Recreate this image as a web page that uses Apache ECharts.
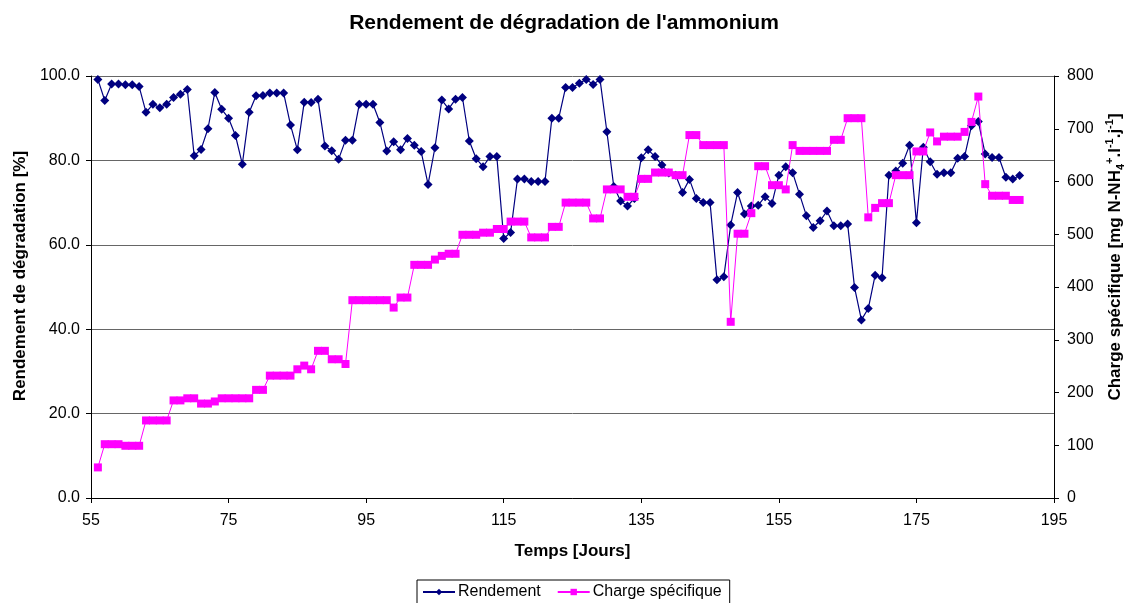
<!DOCTYPE html>
<html>
<head>
<meta charset="utf-8">
<script src="https://cdn.jsdelivr.net/npm/echarts@6/dist/echarts.min.js"></script>
<style>
  html, body { margin: 0; padding: 0; background: #fff; }
  #chart { width: 1128px; height: 603px; }
</style>
</head>
<body>
<div id="chart"></div>
<script>
// jours de mesure
const jours = [
  56, 57, 58, 59, 60, 61, 62, 63, 64, 65, 66, 67, 68, 69, 70, 71, 72, 73, 74, 75,
  76, 77, 78, 79, 80, 81, 82, 83, 84, 85, 86, 87, 88, 89, 90, 91, 92, 93, 94, 95,
  96, 97, 98, 99, 100, 101, 102, 103, 104, 105, 106, 107, 108, 109, 110, 111, 112, 113, 114, 115,
  116, 117, 118, 119, 120, 121, 122, 123, 124, 125, 126, 127, 128, 129, 130, 131, 132, 133, 134, 135,
  136, 137, 138, 139, 140, 141, 142, 143, 144, 145, 146, 147, 148, 149, 150, 151, 152, 153, 154, 155,
  156, 157, 158, 159, 160, 161, 162, 163, 164, 165, 166, 167, 168, 169, 170, 171, 172, 173, 174, 175,
  176, 177, 178, 179, 180, 181, 182, 183, 184, 185, 186, 187, 188, 189, 190
];
// rendement de dégradation [%]
const rendement = [
  99.2, 94.2, 98.1, 98.1, 97.9, 97.9, 97.5, 91.4, 93.3, 92.5, 93.3, 94.9, 95.7, 96.8, 81.1, 82.6, 87.5, 96.1, 92.1, 90.0,
  85.9, 79.1, 91.4, 95.3, 95.4, 96.0, 96.0, 96.0, 88.4, 82.5, 93.8, 93.7, 94.5, 83.4, 82.3, 80.3, 84.8, 84.8, 93.3, 93.3,
  93.3, 89.0, 82.2, 84.4, 82.5, 85.2, 83.6, 82.1, 74.3, 83.0, 94.3, 92.2, 94.5, 94.9, 84.6, 80.4, 78.5, 80.9, 80.9, 61.5,
  62.9, 75.6, 75.6, 75.0, 75.0, 75.0, 90.0, 90.0, 97.3, 97.3, 98.3, 99.2, 98.0, 99.2, 86.8, 73.8, 70.4, 69.2, 71.0, 80.6,
  82.5, 80.9, 78.9, 77.0, 76.5, 72.4, 75.5, 71.0, 70.0, 70.0, 51.7, 52.4, 64.7, 72.4, 67.3, 69.2, 69.4, 71.4, 69.8, 76.5,
  78.5, 77.1, 72.0, 66.9, 64.1, 65.7, 68.0, 64.5, 64.5, 64.9, 49.9, 42.2, 44.9, 52.8, 52.2, 76.5, 77.5, 79.3, 83.6, 65.2,
  83.1, 79.7, 76.7, 77.1, 77.1, 80.5, 80.9, 88.2, 89.2, 81.5, 80.7, 80.7, 76.0, 75.6, 76.4
];
// charge spécifique [mg N-NH4+/l/j]
const charge = [
  58, 102, 102, 102, 99, 99, 99, 147, 147, 147, 147, 185, 185, 189, 189, 179, 179, 183, 189, 189,
  189, 189, 189, 205, 205, 232, 232, 232, 232, 244, 251, 244, 279, 279, 263, 263, 254, 375, 375, 375,
  375, 375, 375, 361, 380, 380, 442, 442, 442, 452, 459, 463, 463, 499, 499, 499, 503, 503, 510, 510,
  524, 524, 524, 494, 494, 494, 514, 514, 560, 560, 560, 560, 530, 530, 585, 585, 585, 571, 571, 605,
  605, 617, 617, 617, 612, 612, 688, 688, 669, 669, 669, 669, 334, 501, 501, 540, 629, 629, 593, 593,
  585, 669, 658, 658, 658, 658, 658, 679, 679, 720, 720, 720, 532, 550, 559, 559, 612, 612, 612, 657,
  657, 693, 676, 685, 685, 685, 694, 713, 761, 595, 573, 573, 573, 565, 565
];

const chart = echarts.init(document.getElementById('chart'));
const police = 'Liberation Sans, Arial, sans-serif';

let option = {
  animation: false,
  textStyle: { fontFamily: police },
  title: {
    text: "Rendement de dégradation de l'ammonium",
    left: 'center',
    top: 8,
    textStyle: { fontSize: 21, fontWeight: 'bold', color: '#000', fontFamily: police }
  },
  legend: {
    top: 580,
    left: 417,
    itemWidth: 32,
    itemHeight: 8,
    itemGap: 16,
    padding: [4, 8, 4, 5],
    borderColor: '#000',
    borderWidth: 1,
    borderRadius: 0,
    textStyle: { fontSize: 16, color: '#000', fontFamily: police, padding: [0, 0, 0, -2] },
    data: ['Rendement', 'Charge spécifique']
  },
  grid: { left: 91, right: 74, top: 76, bottom: 105, outerBoundsMode: 'none', containLabel: false },
  xAxis: {
    type: 'value',
    min: 55,
    max: 195,
    interval: 20,
    name: 'Temps [Jours]',
    nameLocation: 'middle',
    nameGap: 45,
    nameTextStyle: { fontSize: 17, fontWeight: 'bold', color: '#000' },
    axisLine: { lineStyle: { color: '#000', width: 1 } },
    axisTick: { length: 5, lineStyle: { color: '#000' } },
    axisLabel: { fontSize: 16, color: '#000', margin: 15 },
    splitLine: { show: false }
  },
  yAxis: [
    {
      type: 'value',
      min: 0,
      max: 100,
      interval: 20,
      name: 'Rendement de dégradation [%]',
      nameLocation: 'middle',
      nameRotate: 90,
      nameGap: 56,
      nameTextStyle: { fontSize: 17, fontWeight: 'bold', color: '#000', padding: [0, 0, 0, 22] },
      axisLine: { show: true, lineStyle: { color: '#000' } },
      axisTick: { show: true, length: 5, lineStyle: { color: '#000' } },
      axisLabel: { fontSize: 16, color: '#000', margin: 11, formatter: v => v.toFixed(1) },
      splitLine: { show: true, lineStyle: { color: '#666', width: 1 } }
    },
    {
      type: 'value',
      min: 0,
      max: 800,
      interval: 100,
      position: 'right',
      name: '{b|Charge spécifique [mg N-NH}{sub|4}{sup|+}{b|.l}{sup|-1}{b|.j}{sup|-1}{b|]}',
      nameLocation: 'middle',
      nameRotate: 90,
      nameGap: 49,
      nameTextStyle: {
        padding: [0, 0, 0, 60],
        rich: {
          b: { fontSize: 17, fontWeight: 'bold', color: '#000', fontFamily: police, lineHeight: 22 },
          sup: { fontSize: 11, fontWeight: 'bold', color: '#000', fontFamily: police, verticalAlign: 'top', lineHeight: 22 },
          sub: { fontSize: 11, fontWeight: 'bold', color: '#000', fontFamily: police, verticalAlign: 'bottom', lineHeight: 22 }
        }
      },
      axisLine: { show: true, lineStyle: { color: '#000' } },
      axisTick: { show: true, length: 5, lineStyle: { color: '#000' } },
      axisLabel: { fontSize: 16, color: '#000', margin: 13 },
      splitLine: { show: false }
    }
  ],
  series: [
    {
      name: 'Rendement',
      type: 'line',
      yAxisIndex: 0,
      data: jours.map((j, i) => [j, rendement[i]]),
      symbol: 'diamond',
      symbolSize: 9,
      itemStyle: { color: '#000080' },
      lineStyle: { color: '#000080', width: 1.2 },
      z: 2
    },
    {
      name: 'Charge spécifique',
      type: 'line',
      yAxisIndex: 1,
      data: jours.map((j, i) => [j, charge[i]]),
      symbol: 'rect',
      symbolSize: 8,
      itemStyle: { color: '#ff00ff' },
      lineStyle: { color: '#ff00ff', width: 1 },
      z: 3
    }
  ]
};

chart.setOption(option);
window.addEventListener('resize', function () {
  chart.resize();
});
</script>
</body>
</html>
